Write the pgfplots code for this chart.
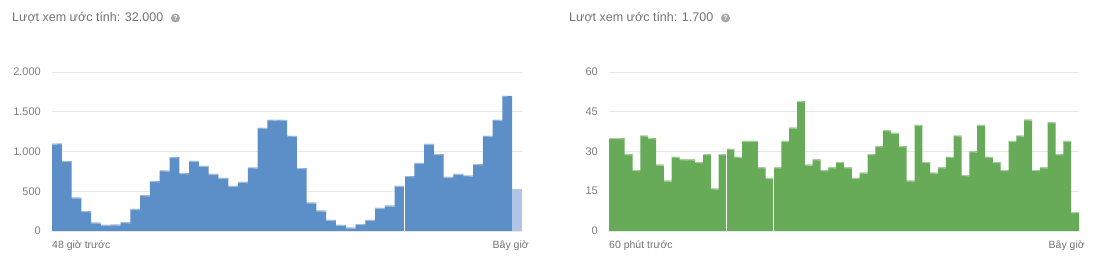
\documentclass[border=0pt]{standalone}
\usepackage{pgfplots}
\usepackage{pgfplotstable}
\pgfplotsset{compat=1.18}
\usepackage{fontspec}
\setmainfont{Liberation Sans}
\definecolor{ytblue}{HTML}{5C8EC8}
\definecolor{ytbluetop}{HTML}{A3BDE0}
\definecolor{ytlight}{HTML}{B0C5E3}
\definecolor{ytgreen}{HTML}{67AB59}
\definecolor{ytgreentop}{HTML}{A8D19E}
\definecolor{txtgray}{HTML}{737373}
\definecolor{tickgray}{HTML}{7E7E7E}
\definecolor{gridgray}{HTML}{E6E6E6}
\definecolor{icongray}{HTML}{A6A6A6}
\pgfplotstableread{
x y
1 1100
2 880
3 420
4 250
5 105
6 76
7 80
8 109
9 277
10 449
11 626
12 760
13 928
14 727
15 882
16 819
17 718
18 668
19 567
20 617
21 798
22 1298
23 1399
24 1399
25 1197
26 790
27 357
28 256
29 139
30 76
31 42
32 88
33 139
34 290
35 319
36 567
37 689
38 857
39 1096
40 966
41 680
42 718
43 697
44 840
45 1197
46 1399
47 1701
}\hours
\pgfplotstableread{
x y
1 35
2 35
3 29
4 23
5 36
6 35
7 25
8 19
9 28
10 27
11 27
12 26
13 29
14 16
15 29
16 31
17 28
18 34
19 34
20 24
21 20
22 24
23 34
24 39
25 49
26 25
27 27
28 23
29 24
30 26
31 24
32 20
33 22
34 29
35 32
36 38
37 37
38 32
39 19
40 40
41 26
42 22
43 24
44 28
45 36
46 21
47 30
48 40
49 28
50 26
51 23
52 34
53 36
54 42
55 23
56 24
57 41
58 29
59 34
60 7
}\minutes
\pgfplotsset{
  ytstyle/.style={
    scale only axis, width=470pt, height=159pt, anchor=south west,
    ymin=0, axis line style={draw=none},
    xtick=\empty, ymajorgrids, grid style={gridgray, line width=0.8pt},
    major tick length=0pt,
    yticklabel style={font=\fontsize{11}{13}\selectfont, text=tickgray, inner sep=0pt, xshift=-11pt, anchor=east},
    /pgf/number format/.cd, 1000 sep={.}, assume math mode=true,
  },
}
\begin{document}
\begin{tikzpicture}
\useasboundingbox (0,0) rectangle (1100pt,265pt);
% left chart
\begin{axis}[ytstyle, at={(52pt,34pt)}, xmin=0.5, xmax=48.5, ymax=2000, ytick={0,500,1000,1500,2000}]
\addplot[ybar, bar width=1, fill=ytblue, draw=none] table[x=x, y=y] {\hours};
\addplot[ybar, bar width=1, fill=ytlight, draw=none] coordinates {(48,529)};
\addplot[jump mark mid, ytbluetop, line width=0.9pt, yshift=-0.45pt] table[x=x, y=y] {\hours};
\addplot[jump mark mid, ytbluetop, line width=0.9pt, yshift=-0.45pt] coordinates {(0,1100)(1,1100)};
\addplot[white, line width=1.2pt] coordinates {(36.5,0)(36.5,689)};
\end{axis}
% right chart
\begin{axis}[ytstyle, at={(609pt,34pt)}, xmin=0.5, xmax=60.5, ymax=60, ytick={0,15,30,45,60}]
\addplot[ybar, bar width=1, fill=ytgreen, draw=none] table[x=x, y=y] {\minutes};
\addplot[jump mark mid, ytgreentop, line width=0.9pt, yshift=-0.45pt] table[x=x, y=y] {\minutes};
\addplot[jump mark mid, ytgreentop, line width=0.9pt, yshift=-0.45pt] coordinates {(0,35)(1,35)};
\addplot[jump mark mid, ytgreentop, line width=0.9pt, yshift=-0.45pt] coordinates {(60,7)(61,7)};
\addplot[white, line width=1.2pt] coordinates {(15.5,0)(15.5,31)};
\addplot[white, line width=1.2pt] coordinates {(21.5,0)(21.5,24)};
\end{axis}
% titles
\node[anchor=west, inner sep=0pt, text=txtgray, font=\fontsize{12.5}{14}\selectfont] (t1) at (12pt,247pt) {Lượt xem ước tính: 32.000};
\node[circle, fill=icongray, inner sep=0pt, minimum size=9pt, text=white, font=\bfseries\fontsize{7}{7}\selectfont] at ([xshift=12pt]t1.east) {?};
\node[anchor=west, inner sep=0pt, text=txtgray, font=\fontsize{12.5}{14}\selectfont] (t2) at (569pt,247pt) {Lượt xem ước tính: 1.700};
\node[circle, fill=icongray, inner sep=0pt, minimum size=9pt, text=white, font=\bfseries\fontsize{7}{7}\selectfont] at ([xshift=12pt]t2.east) {?};
% x labels
\node[anchor=west, inner sep=0pt, text=txtgray, font=\fontsize{10.5}{12}\selectfont] at (52pt,19pt) {48 giờ trước};
\node[anchor=east, inner sep=0pt, text=txtgray, font=\fontsize{10.5}{12}\selectfont] at (529pt,19pt) {Bây giờ};
\node[anchor=west, inner sep=0pt, text=txtgray, font=\fontsize{10.5}{12}\selectfont] at (609pt,19pt) {60 phút trước};
\node[anchor=east, inner sep=0pt, text=txtgray, font=\fontsize{10.5}{12}\selectfont] at (1085pt,19pt) {Bây giờ};
\end{tikzpicture}
\end{document}
